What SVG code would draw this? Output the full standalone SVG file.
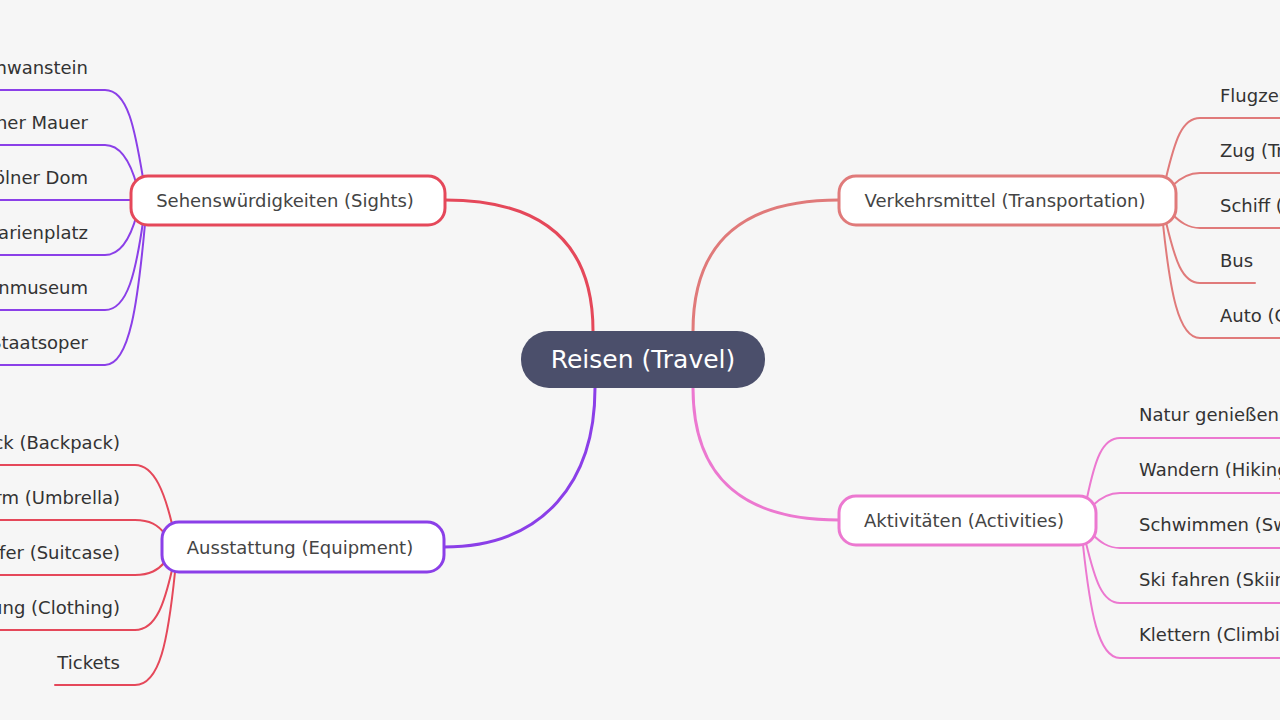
<svg xmlns="http://www.w3.org/2000/svg" width="1280" height="720" viewBox="0 0 1280 720">
<style>
text{font-family:"DejaVu Sans","Liberation Sans",sans-serif;fill:#333}
.leaf{font-size:18px}
.nt{font-size:18px;fill:#444;text-anchor:middle}
.c{fill:none;stroke-linecap:round}
.m{stroke-width:3}
.l{stroke-width:2}
.box{fill:#fff;stroke-width:3}
</style>
<rect width="1280" height="720" fill="#f6f6f6"/>
<g id="connectors">
<path class="c m" stroke="#e5485a" d="M593,331 C593,240 540,200 445,200"/>
<path class="c m" stroke="#8b3fe8" d="M595,388 C595,480 545,547 444,547"/>
<path class="c m" stroke="#e07a7a" d="M693,331 C693,240 745,200 839,200"/>
<path class="c m" stroke="#ec78d0" d="M693,388 C693,480 745,520 839,520"/>
<g stroke="#8b3fe8" class="c l">
<path d="M143,178 C135,130 128,90 105,90 L0,90"/>
<path d="M137,186 C130,160 120,145 105,145 L0,145"/>
<path d="M131,200 L0,200"/>
<path d="M137,214 C130,240 120,255 105,255 L0,255"/>
<path d="M143,222 C136,270 128,310 105,310 L0,310"/>
<path d="M145,224 C138,300 130,365 105,365 L0,365"/>
</g>
<g stroke="#e5485a" class="c l">
<path d="M172,524 C165,495 155,465 135,465 L0,465"/>
<path d="M165,534 C158,525 150,520 135,520 L0,520"/>
<path d="M165,562 C158,570 150,575 135,575 L0,575"/>
<path d="M172,570 C165,600 157,630 135,630 L0,630"/>
<path d="M175,572 C168,640 160,685 135,685 L55,685"/>
</g>
<g stroke="#e07a7a" class="c l">
<path d="M1166,178 C1175,140 1182,118 1200,118 L1280,118"/>
<path d="M1172,186 C1180,178 1188,173 1200,173 L1280,173"/>
<path d="M1172,214 C1180,222 1188,228 1200,228 L1280,228"/>
<path d="M1166,222 C1175,260 1182,283 1200,283 L1255,283"/>
<path d="M1163,224 C1170,290 1178,338 1200,338 L1280,338"/>
</g>
<g stroke="#ec78d0" class="c l">
<path d="M1087,498 C1095,460 1102,438 1120,438 L1280,438"/>
<path d="M1092,506 C1100,498 1108,493 1120,493 L1280,493"/>
<path d="M1092,534 C1100,542 1108,548 1120,548 L1280,548"/>
<path d="M1086,543 C1095,580 1102,603 1120,603 L1280,603"/>
<path d="M1083,545 C1090,610 1098,658 1120,658 L1280,658"/>
</g>
</g>
<g id="center"><rect x="521" y="331" width="244" height="57" rx="28" fill="#4b4f6b"/><text x="643" y="368" font-size="25" text-anchor="middle" style="fill:#fff">Reisen (Travel)</text></g>
<g id="sights"><rect class="box" x="131" y="176" width="314" height="49" rx="17" stroke="#e5485a"/><text class="nt" x="285" y="207">Sehenswürdigkeiten (Sights)</text></g>
<g id="equipment"><rect class="box" x="162" y="522" width="282" height="50" rx="17" stroke="#8b3fe8"/><text class="nt" x="300" y="554">Ausstattung (Equipment)</text></g>
<g id="transport"><rect class="box" x="839" y="176" width="337" height="49" rx="17" stroke="#e07a7a"/><text class="nt" x="1005" y="207">Verkehrsmittel (Transportation)</text></g>
<g id="activities"><rect class="box" x="839" y="496" width="257" height="49" rx="17" stroke="#ec78d0"/><text class="nt" x="964" y="527">Aktivitäten (Activities)</text></g>
<g id="sights-leaves" text-anchor="end">
<text class="leaf" x="88" y="74">Schloss Neuschwanstein</text>
<text class="leaf" x="88" y="129">Berliner Mauer</text>
<text class="leaf" x="88" y="184">Kölner Dom</text>
<text class="leaf" x="88" y="239">Marienplatz</text>
<text class="leaf" x="88" y="294">Pergamonmuseum</text>
<text class="leaf" x="88" y="349">Staatsoper</text>
</g>
<g id="equipment-leaves" text-anchor="end">
<text class="leaf" x="120" y="449">Rucksack (Backpack)</text>
<text class="leaf" x="120" y="504">Regenschirm (Umbrella)</text>
<text class="leaf" x="120" y="559">Koffer (Suitcase)</text>
<text class="leaf" x="120" y="614">Kleidung (Clothing)</text>
<text class="leaf" x="120" y="669">Tickets</text>
</g>
<g id="transport-leaves">
<text class="leaf" x="1220" y="102">Flugzeug (Airplane)</text>
<text class="leaf" x="1220" y="157">Zug (Train)</text>
<text class="leaf" x="1220" y="212">Schiff (Ship)</text>
<text class="leaf" x="1220" y="267">Bus</text>
<text class="leaf" x="1220" y="322">Auto (Car)</text>
</g>
<g id="activities-leaves">
<text class="leaf" x="1139" y="421">Natur genießen (Nature)</text>
<text class="leaf" x="1139" y="476">Wandern (Hiking)</text>
<text class="leaf" x="1139" y="531">Schwimmen (Swimming)</text>
<text class="leaf" x="1139" y="586">Ski fahren (Skiing)</text>
<text class="leaf" x="1139" y="641">Klettern (Climbing)</text>
</g>
</svg>
